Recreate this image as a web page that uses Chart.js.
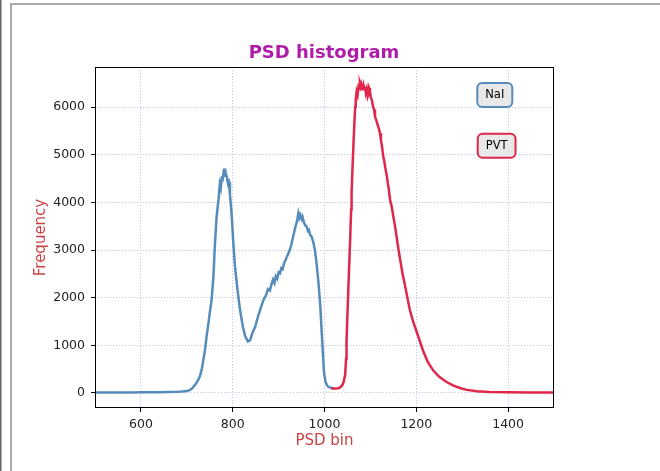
<!DOCTYPE html>
<html>
<head>
<meta charset="utf-8">
<script src="https://cdn.jsdelivr.net/npm/chart.js@4.4.0/dist/chart.umd.min.js"></script>
<style>
    html, body { margin: 0; padding: 0; background: #fff; }
    #wrap { width: 660px; height: 471px; position: relative; }
</style>
</head>
<body>
<div id="wrap"><canvas id="psdChart" width="660" height="471"></canvas></div>
<script>
    // Histogram values
    const naiBins = [500, 520, 540, 560, 580, 600, 620, 640, 660, 680, 690, 700, 706, 712, 718, 724, 729, 733, 736, 740,
        743, 747, 750, 754, 758, 761, 765, 769, 772, 774, 776, 778, 780, 782, 783, 785, 787, 790, 792, 794,
        796, 798, 801, 805, 810, 816, 822, 827, 833, 838, 843, 849, 855, 861, 867, 873, 877, 881, 885, 888,
        891, 894, 897, 900, 903, 906, 909, 912, 915, 918, 921, 925, 928, 931, 934, 937, 940, 943, 945, 947,
        950, 952, 955, 958, 961, 964, 966, 969, 972, 976, 979, 983, 987, 991, 994, 997, 999, 1002, 1005, 1008,
        1013, 1019];
    const naiCounts = [8, 9, 10, 11, 12, 13, 15, 17, 20, 25, 30, 40, 60, 100, 170, 260, 360, 520, 690, 930,
        1180, 1450, 1680, 1950, 2440, 3070, 3700, 4050, 4380, 4300, 4500, 4480, 4620, 4560, 4710, 4600, 4540, 4380, 4420, 4150,
        3950, 3700, 3200, 2650, 2200, 1740, 1400, 1200, 1080, 1110, 1260, 1390, 1600, 1780, 1950, 2060, 2180, 2150, 2300, 2380,
        2310, 2450, 2400, 2530, 2510, 2620, 2600, 2730, 2780, 2860, 2920, 3020, 3120, 3250, 3380, 3500, 3600, 3770, 3680, 3740,
        3650, 3700, 3580, 3520, 3490, 3400, 3420, 3310, 3280, 3150, 3000, 2700, 2300, 1800, 1250, 750, 420, 250, 170, 130,
        110, 100];

    const pvtBins = [1015, 1020, 1025, 1030, 1035, 1039, 1042, 1045, 1047, 1048, 1050, 1052, 1054, 1056, 1058, 1059, 1061, 1063, 1065, 1067,
        1068, 1070, 1072, 1074, 1076, 1077, 1079, 1080, 1082, 1083, 1085, 1087, 1088, 1090, 1092, 1094, 1095, 1097, 1099, 1101,
        1103, 1106, 1108, 1110, 1113, 1115, 1118, 1121, 1123, 1125, 1128, 1130, 1132, 1136, 1138, 1140, 1143, 1147, 1150, 1154,
        1157, 1161, 1165, 1170, 1176, 1181, 1186, 1193, 1201, 1208, 1215, 1225, 1237, 1250, 1266, 1280, 1295, 1310, 1332, 1360,
        1400, 1450, 1500];
    const pvtCounts = [100, 95, 95, 100, 120, 170, 240, 380, 720, 1100, 1650, 2200, 2720, 3250, 3850, 4200, 4720, 5200, 5650, 6010,
        6150, 6320, 6250, 6420, 6380, 6500, 6430, 6480, 6400, 6350, 6460, 6380, 6430, 6300, 6380, 6220, 6250, 6400, 6340, 6200,
        6150, 6000, 5950, 5800, 5720, 5650, 5560, 5450, 5300, 5200, 4960, 4880, 4750, 4540, 4400, 4280, 4050, 3880, 3700, 3480,
        3280, 3020, 2790, 2500, 2230, 1980, 1740, 1500, 1280, 1080, 880, 650, 470, 340, 230, 160, 105, 65, 35, 22,
        16, 12, 10];

    const xTicks = [600, 800, 1000, 1200, 1400];
    const yTicks = [0, 1000, 2000, 3000, 4000, 5000, 6000];

    const blueLine = 'rgba(70, 130, 180, 0.92)';
    const redLine = 'rgba(220, 20, 60, 0.92)';
    const gridColor = '#c4c4ee';
    const labelColor = '#c94343';

    function toPoints(bins, counts) {
        return bins.map((b, i) => ({ x: b, y: counts[i] }));
    }

    // page frame lines + axes box
    const framePlugin = {
        id: 'frame',
        beforeDraw(chart) {
            const ctx = chart.ctx;
            ctx.save();
            ctx.fillStyle = '#fff';
            ctx.fillRect(0, 0, chart.width, chart.height);
            ctx.fillStyle = '#666';
            ctx.fillRect(0, 0, 1.5, chart.height);
            ctx.fillStyle = '#a9a9a9';
            ctx.fillRect(10, 3, 2, chart.height - 3);
            ctx.fillRect(10, 3, chart.width - 10, 2);
            ctx.restore();
        },
        afterDraw(chart) {
            const { ctx, chartArea: a } = chart;
            ctx.save();
            ctx.strokeStyle = '#000';
            ctx.lineWidth = 1;
            ctx.strokeRect(a.left + 0.5, a.top + 0.5, a.right - a.left - 1, a.bottom - a.top - 1);
            ctx.restore();
        }
    };

    // the two labelled boxes in the top right corner
    const tagPlugin = {
        id: 'tags',
        afterDraw(chart) {
            const { ctx, chartArea: a } = chart;
            const tags = [
                { text: 'NaI', color: blueLine, fx: 0.871, fy: 0.082 },
                { text: 'PVT', color: redLine, fx: 0.875, fy: 0.231 }
            ];
            ctx.save();
            ctx.font = '11.5px "DejaVu Sans"';
            ctx.textAlign = 'center';
            ctx.textBaseline = 'middle';
            tags.forEach(t => {
                const cx = a.left + t.fx * (a.right - a.left);
                const cy = a.top + t.fy * (a.bottom - a.top);
                const w = ctx.measureText(t.text).width + 16;
                const h = 24;
                ctx.beginPath();
                ctx.roundRect(cx - w / 2, cy - h / 2, w, h, 5);
                ctx.fillStyle = '#e8e8e8';
                ctx.fill();
                ctx.lineWidth = 2;
                ctx.strokeStyle = t.color;
                ctx.stroke();
                ctx.fillStyle = '#000';
                ctx.fillText(t.text, cx, cy + 0.5);
            });
            ctx.restore();
        }
    };

    const gridOpts = {
        color: gridColor,
        tickColor: '#000',
        tickBorderDash: [],
        tickLength: 4
    };
    const tickFont = { family: '"DejaVu Sans"', size: 12.5 };
    const axisTitleFont = { family: '"DejaVu Sans"', size: 15, lineHeight: 1.2 };

    const ctx = document.getElementById('psdChart').getContext('2d');
    const chart = new Chart(ctx, {
        type: 'line',
        data: {
            datasets: [{
                label: 'NaI',
                data: toPoints(naiBins, naiCounts),
                borderColor: blueLine,
                borderWidth: 2.5,
                pointRadius: 0,
                tension: 0,
                order: 1
            }, {
                label: 'PVT',
                data: toPoints(pvtBins, pvtCounts),
                borderColor: redLine,
                borderWidth: 2.5,
                pointRadius: 0,
                tension: 0,
                order: 0
            }]
        },
        options: {
            responsive: false,
            animation: false,
            layout: { padding: { left: 0, right: 12, top: 0, bottom: 0 } },
            plugins: {
                legend: { display: false },
                tooltip: { enabled: false },
                title: {
                    display: true,
                    text: 'PSD histogram',
                    color: '#b01ca9',
                    font: { family: '"DejaVu Sans"', size: 18, weight: 'bold', lineHeight: 1.2 },
                    padding: { top: 42.5, bottom: 2.9 }
                }
            },
            scales: {
                x: {
                    type: 'linear',
                    min: 500,
                    max: 1500,
                    afterBuildTicks: s => { s.ticks = xTicks.map(v => ({ value: v })); },
                    afterFit: s => { s.height = 63; },
                    grid: gridOpts,
                    border: { display: false, dash: [1.2, 1.8] },
                    ticks: {
                        color: '#222',
                        padding: 5,
                        maxRotation: 0,
                        font: tickFont,
                        callback: v => String(v)
                    },
                    title: {
                        display: true,
                        text: 'PSD bin',
                        color: labelColor,
                        font: axisTitleFont,
                        padding: { top: 0, bottom: 21 }
                    }
                },
                y: {
                    type: 'linear',
                    min: -315,
                    max: 6840,
                    afterBuildTicks: s => { s.ticks = yTicks.map(v => ({ value: v })); },
                    afterFit: s => { s.width = 95; },
                    grid: gridOpts,
                    border: { display: false, dash: [1.2, 1.8] },
                    ticks: {
                        color: '#222',
                        padding: 6,
                        font: tickFont,
                        callback: v => String(v)
                    },
                    title: {
                        display: true,
                        text: 'Frequency',
                        color: labelColor,
                        font: axisTitleFont,
                        padding: { top: 32, bottom: 0 }
                    }
                },
                // empty right-hand strip so the title centres over the plot
                yRight: {
                    type: 'linear',
                    position: 'right',
                    min: 0,
                    max: 1,
                    afterFit: s => { s.width = 94; },
                    grid: { display: false, drawOnChartArea: false },
                    border: { display: false },
                    ticks: { display: false }
                }
            }
        },
        plugins: [framePlugin, tagPlugin]
    });
</script>
</body>
</html>
